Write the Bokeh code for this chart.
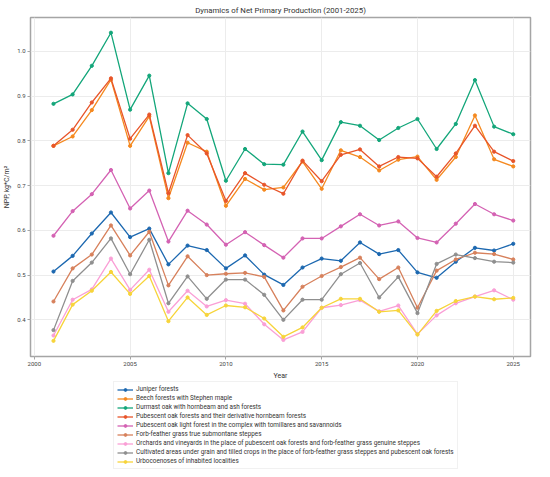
from bokeh.plotting import figure
from bokeh.layouts import column
from bokeh.models import Legend, LegendItem, Range1d, FixedTicker, NumeralTickFormatter
from bokeh.embed import file_html
from bokeh.resources import INLINE

years = list(range(2001, 2026))

juniper = [0.508, 0.543, 0.593, 0.640, 0.585, 0.604, 0.524, 0.566, 0.556, 0.515,
           0.544, 0.501, 0.478, 0.517, 0.537, 0.532, 0.573, 0.547, 0.556, 0.506,
           0.494, 0.530, 0.561, 0.555, 0.570]
beech = [0.789, 0.810, 0.869, 0.937, 0.789, 0.855, 0.672, 0.796, 0.776, 0.655,
         0.715, 0.691, 0.696, 0.754, 0.693, 0.779, 0.764, 0.734, 0.758, 0.765,
         0.713, 0.764, 0.857, 0.759, 0.743]
durmast = [0.883, 0.904, 0.968, 1.042, 0.870, 0.946, 0.728, 0.884, 0.849, 0.711,
           0.782, 0.748, 0.747, 0.821, 0.757, 0.842, 0.834, 0.802, 0.829, 0.849,
           0.782, 0.838, 0.936, 0.832, 0.815]
pub_forest = [0.789, 0.825, 0.886, 0.940, 0.805, 0.859, 0.683, 0.813, 0.772, 0.666,
              0.728, 0.702, 0.682, 0.756, 0.710, 0.769, 0.781, 0.743, 0.764, 0.761,
              0.720, 0.772, 0.834, 0.776, 0.755]
pub_light = [0.588, 0.643, 0.681, 0.735, 0.649, 0.689, 0.575, 0.644, 0.613, 0.568,
             0.596, 0.567, 0.539, 0.582, 0.582, 0.609, 0.636, 0.611, 0.620, 0.583,
             0.573, 0.615, 0.659, 0.636, 0.622]
forb = [0.441, 0.515, 0.546, 0.611, 0.544, 0.597, 0.477, 0.542, 0.500, 0.503,
        0.505, 0.496, 0.421, 0.474, 0.498, 0.518, 0.539, 0.491, 0.517, 0.427,
        0.510, 0.535, 0.550, 0.547, 0.535]
orchards = [0.365, 0.445, 0.468, 0.537, 0.467, 0.512, 0.418, 0.465, 0.430, 0.444,
            0.436, 0.390, 0.355, 0.373, 0.427, 0.433, 0.444, 0.419, 0.432, 0.368,
            0.410, 0.437, 0.452, 0.466, 0.445]
cultivated = [0.377, 0.487, 0.528, 0.582, 0.502, 0.579, 0.437, 0.497, 0.447, 0.490,
              0.490, 0.456, 0.400, 0.445, 0.445, 0.502, 0.527, 0.450, 0.496, 0.415,
              0.525, 0.546, 0.538, 0.530, 0.528]
urbo = [0.353, 0.434, 0.465, 0.507, 0.458, 0.498, 0.397, 0.450, 0.411, 0.432,
        0.428, 0.403, 0.362, 0.383, 0.427, 0.447, 0.447, 0.418, 0.421, 0.367,
        0.420, 0.442, 0.452, 0.446, 0.449]

names = [
    "Juniper forests",
    "Beech forests with Stephen maple",
    "Durmast oak with hornbeam and ash forests",
    "Pubescent oak forests and their derivative hornbeam forests",
    "Pubescent oak light forest in the complex with tomillares and savannoids",
    "Forb-feather grass true submontane steppes",
    "Orchards and vineyards in the place of pubescent oak forests and forb-feather grass genuine steppes",
    "Cultivated areas under grain and tilled crops in the place of forb-feather grass steppes and pubescent oak forests",
    "Urbocoenoses of inhabited localities",
]
series = [juniper, beech, durmast, pub_forest, pub_light, forb, orchards, cultivated, urbo]
colors = ["#1c68b0", "#f5891f", "#13a67a", "#e8552a", "#d462b3",
          "#d7815c", "#fa9fd6", "#8f8f8f", "#f7d43a"]

x_ticks = [2000, 2005, 2010, 2015, 2020, 2025]
y_ticks = [0.4, 0.5, 0.6, 0.7, 0.8, 0.9, 1.0]

FONT = "Roboto"

p = figure(width=534, height=382, output_backend="svg", toolbar_location=None,
           x_range=Range1d(1999.8, 2025.9), y_range=Range1d(0.318, 1.076),
           title="Dynamics of Net Primary Production (2001-2025)",
           background_fill_color="white", border_fill_color="white",
           min_border_left=10, min_border_right=4, min_border_top=2, min_border_bottom=2)

p.title.align = "center"
p.title.text_font = FONT
p.title.text_font_size = "7.8px"
p.title.text_font_style = "normal"
p.title.text_color = "#333333"
p.title.standoff = 6

p.outline_line_color = "#a5a5a5"
p.outline_line_width = 1.5

p.grid.grid_line_color = "#ececec"
p.grid.grid_line_width = 1

for ax in (p.xaxis, p.yaxis):
    ax.axis_line_color = None
    ax.minor_tick_line_color = None
    ax.major_tick_line_color = "#a5a5a5"
    ax.major_tick_out = 3
    ax.major_tick_in = 0
    ax.major_label_text_font = FONT
    ax.major_label_text_font_size = "6px"
    ax.major_label_text_color = "#444444"
    ax.major_label_standoff = 2
    ax.axis_label_text_font = FONT
    ax.axis_label_text_font_size = "7px"
    ax.axis_label_text_font_style = "normal"
    ax.axis_label_text_color = "#333333"
    ax.axis_label_standoff = 3

p.xaxis.ticker = FixedTicker(ticks=x_ticks)
p.yaxis.ticker = FixedTicker(ticks=y_ticks)
p.yaxis.formatter = NumeralTickFormatter(format="0.0")
p.xaxis.axis_label = "Year"
p.yaxis.axis_label = "NPP, kg*C/m²"

# legend figure (placed under the plot)
pl = figure(width=534, height=95, output_backend="svg", toolbar_location=None,
            x_range=Range1d(0, 1), y_range=Range1d(0, 1),
            x_axis_type=None, y_axis_type=None,
            min_border_left=0, min_border_right=0, min_border_top=0, min_border_bottom=0,
            background_fill_color=None, border_fill_color=None)
pl.outline_line_color = None
pl.grid.visible = False
pl.margin = (-8, 0, 0, 0)

hidden_x = [-10, -9]
hidden_y = [-10, -10]

items = []
for name, vals, col in zip(names, series, colors):
    p.line(years, vals, line_color=col, line_width=1.3)
    p.scatter(years, vals, size=3.2, fill_color=col, line_color=col)
    l1 = pl.line(hidden_x, hidden_y, line_color=col, line_width=1.3)
    l2 = pl.scatter(hidden_x, hidden_y, size=3.2, fill_color=col, line_color=col)
    items.append(LegendItem(label=name, renderers=[l1, l2]))

legend = Legend(items=items, location=(83, 0), orientation="vertical",
                label_text_font=FONT, label_text_font_size="6.35px",
                label_text_color="#333333",
                label_height=7, glyph_height=7, glyph_width=16, spacing=1,
                label_standoff=3, padding=3, margin=0,
                border_line_color="#e3e3e3", border_line_width=1,
                background_fill_color="white")
pl.add_layout(legend, "center")

layout = column(p, pl, spacing=0)
open("out.html", "w").write(file_html(layout, INLINE))
